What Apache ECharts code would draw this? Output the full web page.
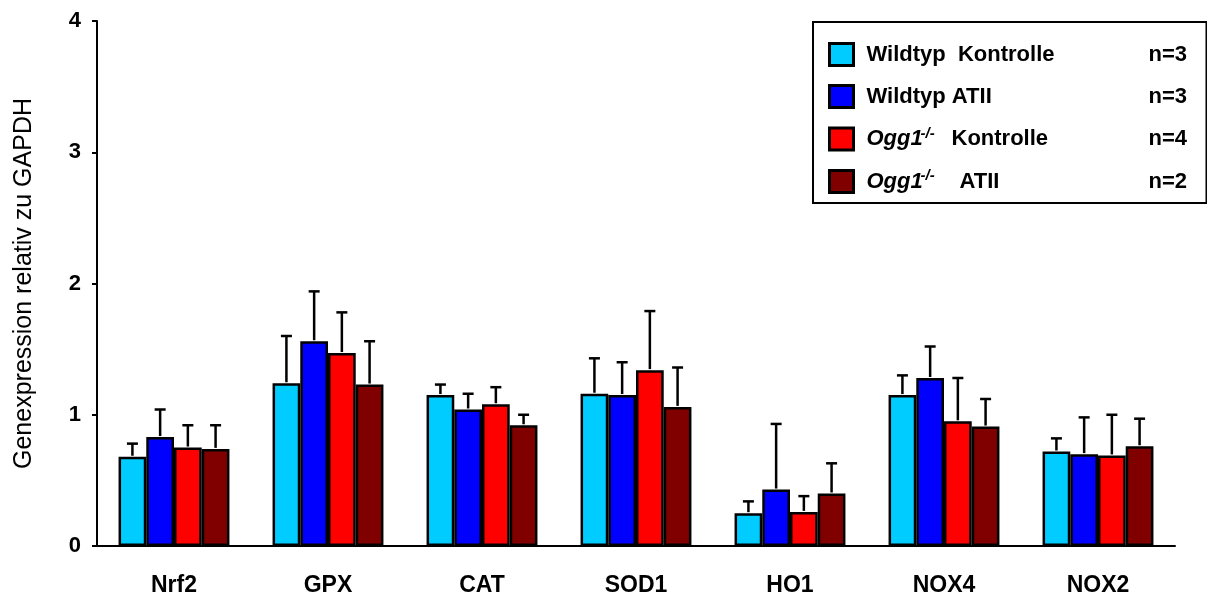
<!DOCTYPE html>
<html>
<head>
    <meta charset="utf-8">
    <title>Genexpression relativ zu GAPDH</title>
    <script src="https://cdn.jsdelivr.net/npm/echarts@6/dist/echarts.min.js"></script>
</head>
<body style="margin:0;background:#fff">
    <div id="main" style="width:1207px;height:594px"></div>
    <script type="text/javascript">
        // Gene (x axis)
        var genes = ['Nrf2', 'GPX', 'CAT', 'SOD1', 'HO1', 'NOX4', 'NOX2'];
        var yTicks = [0, 1, 2, 3, 4];

        // Mittelwerte + Fehler (nur nach oben)
        var wtKontrolle = [0.68, 1.24, 1.15, 1.16, 0.25, 1.15, 0.72];
        var wtKontrolleErr = [0.10, 0.36, 0.08, 0.27, 0.09, 0.15, 0.10];
        var wtAtii = [0.83, 1.56, 1.04, 1.15, 0.43, 1.28, 0.70];
        var wtAtiiErr = [0.21, 0.38, 0.12, 0.25, 0.50, 0.24, 0.28];
        var oggKontrolle = [0.75, 1.47, 1.08, 1.34, 0.26, 0.95, 0.69];
        var oggKontrolleErr = [0.17, 0.31, 0.13, 0.45, 0.12, 0.33, 0.31];
        var oggAtii = [0.74, 1.23, 0.92, 1.06, 0.40, 0.91, 0.76];
        var oggAtiiErr = [0.18, 0.33, 0.08, 0.30, 0.23, 0.21, 0.21];

        var groupNames = ['Wildtyp  Kontrolle', 'Wildtyp ATII', 'Ogg1-/- Kontrolle', 'Ogg1-/-  ATII'];
        var groupN = ['n=3', 'n=3', 'n=4', 'n=2'];
        var colors = ['#00ccff', '#0000ff', '#ff0000', '#800000'];

        var means = [wtKontrolle, wtAtii, oggKontrolle, oggAtii];
        var errs = [wtKontrolleErr, wtAtiiErr, oggKontrolleErr, oggAtiiErr];

        var catGap = 0.28;
        var font = 'Arial, "Liberation Sans", sans-serif';

        // legend text incl. kursiv Ogg1 und hochgestelltes -/-
        var legendText = {};
        legendText[groupNames[0]] = '{b|Wildtyp  Kontrolle}{n|' + groupN[0] + '}';
        legendText[groupNames[1]] = '{b|Wildtyp ATII}{n|' + groupN[1] + '}';
        legendText[groupNames[2]] = '{i|Ogg1}{s|-/-}{k|Kontrolle}{n|' + groupN[2] + '}';
        legendText[groupNames[3]] = '{i|Ogg1}{s|-/-}{k2|ATII}{n|' + groupN[3] + '}';

        var errData = [];
        means.forEach(function(m, si) {
            m.forEach(function(v, ci) {
                errData.push([ci, si, v, errs[si][ci]]);
            });
        });

        function renderErr(params, api) {
            var ci = api.value(0), si = api.value(1);
            var v = api.value(2), e = api.value(3);
            var band = api.size([1, 0])[0];
            var bw = band * (1 - catGap) / 4;
            var base = api.coord([ci, v]);
            var top = api.coord([ci, v + e]);
            var x = base[0] + (si - 1.5) * bw;
            var style = { stroke: '#000', lineWidth: 2.5 };
            return {
                type: 'group',
                children: [{
                    type: 'line',
                    shape: { x1: x, y1: base[1] - 1, x2: x, y2: top[1] },
                    style: style
                }, {
                    type: 'line',
                    shape: { x1: x - 5.5, y1: top[1], x2: x + 5.5, y2: top[1] },
                    style: style
                }]
            };
        }

        var series = means.map(function(m, si) {
            return {
                name: groupNames[si],
                type: 'bar',
                data: m,
                barGap: '0%',
                barCategoryGap: (catGap * 100) + '%',
                itemStyle: { color: colors[si], borderColor: '#000', borderWidth: 2.5 },
                z: 2
            };
        });
        series.push({
            type: 'custom',
            data: errData,
            renderItem: renderErr,
            encode: { x: 0, y: 2 },
            z: 1,
            silent: true
        });

        var rs = { fontFamily: font, fontSize: 22, fontWeight: 'bold', color: '#000', lineHeight: 26 };
        function rich(extra) {
            var o = {};
            for (var k in rs) o[k] = rs[k];
            for (var k2 in extra) o[k2] = extra[k2];
            return o;
        }

        var chart = echarts.init(document.getElementById('main'));
        var option = {
            animation: false,
            backgroundColor: '#fff',
            color: colors,
            grid: { left: 97, right: 32, top: 21, bottom: 48, containLabel: false, outerBoundsMode: 'none' },
            legend: {
                data: groupNames,
                orient: 'vertical',
                left: 813,
                top: 22,
                padding: [20, 12, 9, 15],
                itemGap: 17,
                itemWidth: 24,
                itemHeight: 22,
                icon: 'rect',
                selectedMode: false,
                borderColor: '#000',
                borderWidth: 2,
                itemStyle: { borderColor: '#000', borderWidth: 3 },
                formatter: function(name) { return legendText[name]; },
                textStyle: {
                    fontFamily: font,
                    fontSize: 22,
                    fontWeight: 'bold',
                    color: '#000',
                    rich: {
                        b: rich({ width: 282, padding: [0, 0, 0, 8] }),
                        i: rich({ fontStyle: 'italic', width: 54, padding: [0, 0, 0, 8] }),
                        s: rich({ fontSize: 15, fontStyle: 'italic', width: 17, verticalAlign: 'top', lineHeight: 18 }),
                        k: rich({ width: 197, padding: [0, 0, 0, 14] }),
                        k2: rich({ width: 189, padding: [0, 0, 0, 22] }),
                        n: rich({ width: 46 })
                    }
                }
            },
            xAxis: {
                type: 'category',
                data: genes,
                axisLine: { lineStyle: { color: '#000', width: 2 } },
                axisTick: { show: false },
                axisLabel: { margin: 28, color: '#000', fontFamily: font, fontSize: 23, fontWeight: 'bold' }
            },
            yAxis: {
                type: 'value',
                min: yTicks[0],
                max: yTicks[yTicks.length - 1],
                interval: 1,
                name: 'Genexpression relativ zu GAPDH',
                nameLocation: 'middle',
                nameGap: 60,
                nameTextStyle: { color: '#000', fontFamily: font, fontSize: 25 },
                splitLine: { show: false },
                axisLine: { show: true, lineStyle: { color: '#000', width: 2 } },
                axisTick: { show: true, length: 5, lineStyle: { color: '#000', width: 2 } },
                axisLabel: { margin: 16, color: '#000', fontFamily: font, fontSize: 22, fontWeight: 'bold' }
            },
            series: series
        };
        chart.setOption(option);
    </script>
</body>
</html>
